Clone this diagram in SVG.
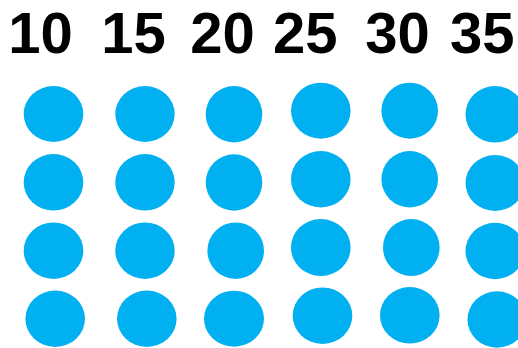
<svg xmlns="http://www.w3.org/2000/svg" width="518" height="348" viewBox="0 0 518 348">
<style>
.lbl{font-family:"Liberation Sans",Arial,sans-serif;font-weight:bold;font-size:58px;fill:#000;text-anchor:middle}
.dot{fill:#00B0F0}
</style>
<rect width="518" height="348" fill="#fff"/>
<g id="labels">
<text class="lbl" x="40.6" y="53">10</text>
<text class="lbl" x="133.4" y="53">15</text>
<text class="lbl" x="222.5" y="53">20</text>
<text class="lbl" x="305.3" y="53">25</text>
<text class="lbl" x="397.5" y="53">30</text>
<text class="lbl" x="482.2" y="53">35</text>
</g>
<g id="col10">
<ellipse class="dot" cx="53.5" cy="114" rx="29.8" ry="28"/>
<ellipse class="dot" cx="53.5" cy="182.3" rx="29.8" ry="28.3"/>
<ellipse class="dot" cx="53.5" cy="250.7" rx="29.8" ry="28.3"/>
<ellipse class="dot" cx="55.2" cy="318.8" rx="29.8" ry="28.2"/>
</g>
<g id="col15">
<ellipse class="dot" cx="145" cy="114" rx="29.7" ry="28"/>
<ellipse class="dot" cx="145" cy="182.3" rx="29.7" ry="28.3"/>
<ellipse class="dot" cx="145" cy="250.7" rx="29.7" ry="28.3"/>
<ellipse class="dot" cx="146.8" cy="318.8" rx="29.8" ry="28.2"/>
</g>
<g id="col20">
<ellipse class="dot" cx="234" cy="114.2" rx="28.3" ry="28.2"/>
<ellipse class="dot" cx="234" cy="182.5" rx="28.3" ry="28.2"/>
<ellipse class="dot" cx="235.7" cy="250.7" rx="28.3" ry="28.3"/>
<ellipse class="dot" cx="234" cy="318.7" rx="30" ry="28"/>
</g>
<g id="col25">
<ellipse class="dot" cx="320.8" cy="110.7" rx="29.8" ry="28"/>
<ellipse class="dot" cx="320.8" cy="179.2" rx="29.8" ry="28.2"/>
<ellipse class="dot" cx="320.8" cy="247.5" rx="29.8" ry="28.5"/>
<ellipse class="dot" cx="322.5" cy="315.7" rx="29.8" ry="28.3"/>
</g>
<g id="col30">
<ellipse class="dot" cx="409.7" cy="110.7" rx="28.3" ry="28"/>
<ellipse class="dot" cx="409.7" cy="179.2" rx="28.3" ry="28.2"/>
<ellipse class="dot" cx="411.3" cy="247.5" rx="28.3" ry="28.5"/>
<ellipse class="dot" cx="409.8" cy="315.3" rx="29.8" ry="28.3"/>
</g>
<g id="col35">
<ellipse class="dot" cx="495" cy="114.3" rx="29.5" ry="28.3"/>
<ellipse class="dot" cx="495" cy="183" rx="29.5" ry="28"/>
<ellipse class="dot" cx="495" cy="251" rx="29.5" ry="28.2"/>
<ellipse class="dot" cx="497" cy="319.5" rx="29.5" ry="28.2"/>
</g>
</svg>
